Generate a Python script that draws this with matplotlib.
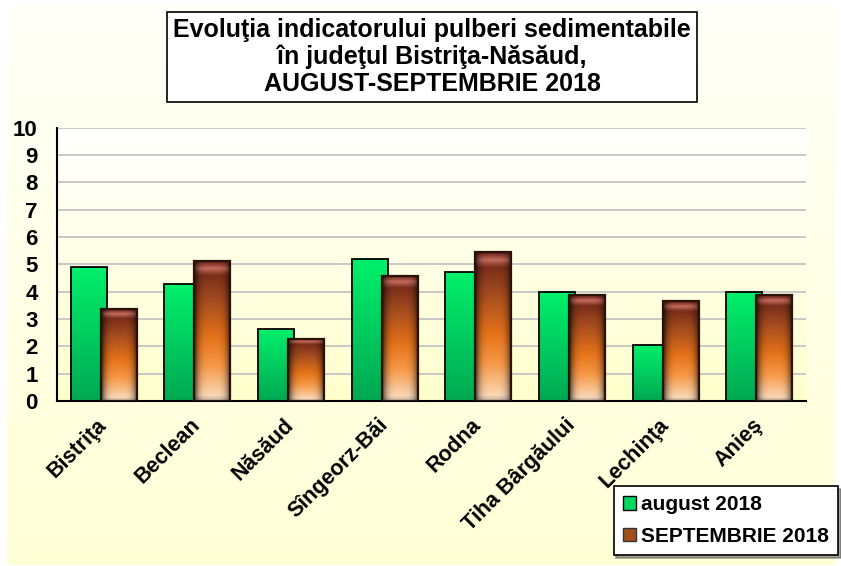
import numpy as np
import matplotlib
matplotlib.use("Agg")
import matplotlib.pyplot as plt
from matplotlib.patches import Patch, Rectangle

plt.rcParams['font.family'] = ['Liberation Sans', 'DejaVu Sans']

categories = ["Bistriţa", "Beclean", "Năsăud", "Sîngeorz-Băi", "Rodna",
              "Tiha Bârgăului", "Lechinţa", "Anieş"]
august = [4.9, 4.27, 2.63, 5.19, 4.73, 3.97, 2.04, 3.97]
septembrie = [3.35, 5.12, 2.28, 4.58, 5.45, 3.87, 3.65, 3.87]
series_names = ["august 2018", "SEPTEMBRIE 2018"]
yticks = list(range(0, 11))
title = "Evoluţia indicatorului pulberi sedimentabile\nîn judeţul Bistriţa-Năsăud,\nAUGUST-SEPTEMBRIE 2018"

W, H = 841, 566
fig = plt.figure(figsize=(W / 100, H / 100), dpi=100)
fig.patch.set_facecolor("white")

# figure background gradient
bg = fig.add_axes([7 / W, 1 / H, 828 / W, 560 / H], zorder=-10)
g = np.linspace(0, 1, 256).reshape(-1, 1)
top_c = np.array([1.0, 1.0, 0.975])
bot_c = np.array([1.0, 1.0, 0.84])
img = bot_c * (1 - g[..., None]) + top_c * g[..., None]
img = np.repeat(img, 2, axis=1)
bg.imshow(img, aspect="auto", origin="lower", extent=[0, 1, 0, 1])
bg.set_axis_off()

ax = fig.add_axes([57 / W, (H - 401) / H, 749 / W, 273.3 / H])
ax.set_facecolor("none")
ax.set_xlim(-0.5, len(categories) - 0.5)
ax.set_ylim(0, 10)

# plot-area gradient
pa_top = np.array([1.0, 1.0, 1.0])
pa_bot = np.array([1.0, 1.0, 0.80])
pimg = pa_bot * (1 - g[..., None]) + pa_top * g[..., None]
pimg = np.repeat(pimg, 2, axis=1)
ax.imshow(pimg, aspect="auto", origin="lower", extent=[-0.5, len(categories) - 0.5, 0, 10], zorder=0)

ax.set_yticks(yticks)
ax.yaxis.grid(True, color="#c4c4c4", lw=1.3, zorder=1)
ax.set_axisbelow(True)
for s in ["top", "right"]:
    ax.spines[s].set_visible(False)
ax.spines["left"].set_color("black")
ax.spines["left"].set_linewidth(1.5)
ax.spines["bottom"].set_color("black")
ax.spines["bottom"].set_linewidth(1.5)
ax.tick_params(axis="both", length=0)
ax.tick_params(axis="y", pad=14, labelsize=16)
for lab in ax.get_yticklabels():
    lab.set_fontweight("bold")

x = np.arange(len(categories))
wd = 0.385
off = 0.16

# green gradient
gg = np.linspace(0, 1, 128).reshape(-1, 1)
g_top = np.array([0.0, 0.94, 0.42])
g_bot = np.array([0.0, 0.66, 0.32])
gimg = g_bot * (1 - gg[..., None]) + g_top * gg[..., None]
gimg = np.repeat(gimg, 2, axis=1)

# brown/orange cylinder gradient
stops = [(0.0, (0.78, 0.70, 0.64)), (0.04, (0.98, 0.84, 0.70)), (0.25, (0.97, 0.60, 0.28)),
         (0.45, (0.90, 0.45, 0.10)), (0.75, (0.62, 0.28, 0.12)), (0.90, (0.48, 0.18, 0.10)),
         (0.95, (0.78, 0.42, 0.36)), (1.0, (0.38, 0.12, 0.08))]
v = np.linspace(0, 1, 200)
col = np.zeros((200, 3))
for k in range(3):
    col[:, k] = np.interp(v, [s[0] for s in stops], [s[1][k] for s in stops])
u = np.linspace(-1, 1, 60)
hf = 1 - 0.75 * np.abs(u) ** 4
bimg = col[:, None, :] * hf[None, :, None]
bimg = np.clip(bimg, 0, 1)

bars_a = ax.bar(x - off, august, width=wd, color="none", edgecolor="black", lw=1.3, zorder=3)
for b in bars_a:
    x0, y0, bw, bh = b.get_x(), b.get_y(), b.get_width(), b.get_height()
    im = ax.imshow(gimg, aspect="auto", origin="lower", extent=[x0, x0 + bw, 0, bh], zorder=2.5)
    im.set_clip_path(b)

bars_s = ax.bar(x + off, septembrie, width=wd, color="none", edgecolor="#2a120a", lw=1.6, zorder=5)
for b in bars_s:
    x0, y0, bw, bh = b.get_x(), b.get_y(), b.get_width(), b.get_height()
    r = Rectangle((x0, 0), bw, bh, transform=ax.transData)
    im = ax.imshow(bimg, aspect="auto", origin="lower", extent=[x0, x0 + bw, 0, bh], zorder=4.5)
    im.set_clip_path(r)

ax.set_xticks(x)
ax.set_xticklabels(categories, rotation=45, ha="right", va="center",
                   rotation_mode="anchor", fontsize=15.5, fontweight="bold")
ax.tick_params(axis="x", pad=15)

# title
fig.text(432 / W, 1 - 57 / H, title, ha="center", va="center", fontsize=18,
         fontweight="bold", linespacing=1.12,
         bbox=dict(boxstyle="square,pad=0.25", fc="white", ec="black", lw=1.2))

# legend
handles = [Patch(facecolor="#00d860", edgecolor="black", lw=1),
           Patch(facecolor="#a0501c", edgecolor="#333333", lw=1)]
leg = fig.legend(handles, series_names, loc="upper right",
                 bbox_to_anchor=(838 / W, 1 - 486 / H), frameon=True, shadow=True,
                 fancybox=False, prop=dict(weight="bold", size=15),
                 handlelength=0.6, handleheight=0.6, handletextpad=0.25,
                 labelspacing=0.6, borderpad=0.45, borderaxespad=0)
leg.get_frame().set_edgecolor("black")
leg.get_frame().set_linewidth(1.2)

fig.savefig("out.png", dpi=100)
